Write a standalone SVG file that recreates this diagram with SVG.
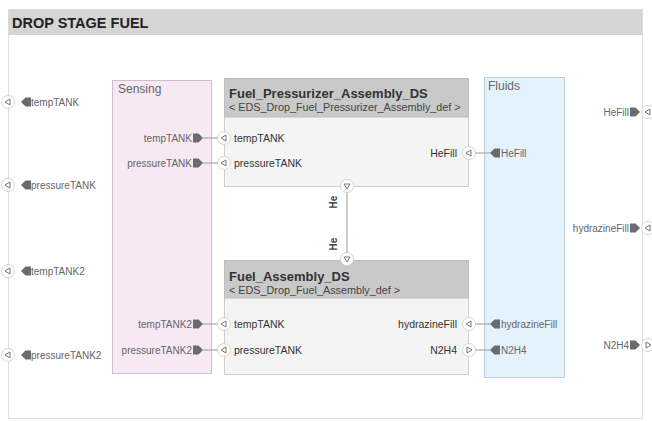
<svg xmlns="http://www.w3.org/2000/svg" xmlns:xlink="http://www.w3.org/1999/xlink" width="652" height="421" viewBox="0 0 652 421">
<style>
text{font-family:"Liberation Sans",Arial,sans-serif}
.lbl{font-size:10px;fill:#666}
.plbl{font-size:10.5px;fill:#333}
.ttl{font-size:13px;font-weight:bold;fill:#333}
.sub{font-size:10.8px;fill:#444}
.grp{font-size:12px;fill:#666}
.con{stroke:#9a9a9a;stroke-width:1;fill:none}
</style>
<defs>
<g id="pinL"><circle r="6.5" fill="#fff" stroke="#d6d6d6"/><path d="M2,-3 L-3,0 L2,3 Z" fill="none" stroke="#777" stroke-width="1"/></g>
<g id="pinR"><circle r="6.5" fill="#fff" stroke="#d6d6d6"/><path d="M-2,-3 L3,0 L-2,3 Z" fill="none" stroke="#777" stroke-width="1"/></g>
<g id="pinD"><circle r="6.5" fill="#fff" stroke="#d6d6d6"/><path d="M-3,-2 L3,-2 L0,3 Z" fill="none" stroke="#777" stroke-width="1"/></g>
<path id="tabR" d="M-5,-4.5 H0.5 L5,0 L0.5,4.5 H-5 Z" fill="#6b6b6b"/>
<path id="tabL" d="M5,-4.5 H-0.5 L-5,0 L-0.5,4.5 H5 Z" fill="#6b6b6b"/>
</defs>

<g id="frame">
<rect x="8.5" y="9.5" width="634" height="409" fill="#fff" stroke="#dedede"/>
<rect x="8.5" y="9.5" width="634" height="25.5" fill="#d5d5d5"/>
<text x="12" y="28" style="font-size:14.5px;font-weight:bold;fill:#222">DROP STAGE FUEL</text>
</g>

<g id="Sensing">
<rect x="112.5" y="80.5" width="99" height="293" fill="#f6e9f4" stroke="#d4bccf"/>
<text class="grp" x="118" y="93">Sensing</text>
<text class="lbl" x="192" y="142" text-anchor="end">tempTANK</text>
<use xlink:href="#tabR" x="198" y="138"/>
<text class="lbl" x="192" y="167" text-anchor="end">pressureTANK</text>
<use xlink:href="#tabR" x="198" y="163"/>
<text class="lbl" x="192" y="328" text-anchor="end">tempTANK2</text>
<use xlink:href="#tabR" x="198" y="324"/>
<text class="lbl" x="192" y="354" text-anchor="end">pressureTANK2</text>
<use xlink:href="#tabR" x="198" y="350"/>
</g>

<g id="Fluids">
<rect x="484.5" y="77.5" width="80" height="300" fill="#e4f2fd" stroke="#bccfe0"/>
<text class="grp" x="488" y="90">Fluids</text>
<use xlink:href="#tabL" x="495" y="153"/>
<text class="lbl" x="501" y="157">HeFill</text>
<use xlink:href="#tabL" x="495" y="324"/>
<text class="lbl" x="501" y="328">hydrazineFill</text>
<use xlink:href="#tabL" x="495" y="350"/>
<text class="lbl" x="501" y="354">N2H4</text>
</g>

<g id="Fuel_Pressurizer_Assembly_DS">
<rect x="224.5" y="78.5" width="244" height="108" fill="#f4f4f4" stroke="#cfcfcf"/>
<rect x="224.5" y="78.5" width="244" height="38.5" fill="#c9c9c9" stroke="#bdbdbd"/>
<text class="ttl" x="229" y="98">Fuel_Pressurizer_Assembly_DS</text>
<text class="sub" x="229" y="111">&lt; EDS_Drop_Fuel_Pressurizer_Assembly_def &gt;</text>
<use xlink:href="#pinL" x="224" y="138"/>
<text class="plbl" x="234" y="142">tempTANK</text>
<use xlink:href="#pinL" x="224" y="163"/>
<text class="plbl" x="234" y="167">pressureTANK</text>
<use xlink:href="#pinL" x="469" y="153"/>
<text class="plbl" x="457" y="157" text-anchor="end">HeFill</text>
<use xlink:href="#pinD" x="347" y="186"/>
</g>

<g id="Fuel_Assembly_DS">
<rect x="224.5" y="260.5" width="244" height="114" fill="#f4f4f4" stroke="#cfcfcf"/>
<rect x="224.5" y="260.5" width="244" height="37.5" fill="#c9c9c9" stroke="#bdbdbd"/>
<text class="ttl" x="229" y="281">Fuel_Assembly_DS</text>
<text class="sub" x="229" y="294">&lt; EDS_Drop_Fuel_Assembly_def &gt;</text>
<use xlink:href="#pinL" x="224" y="324"/>
<text class="plbl" x="234" y="328">tempTANK</text>
<use xlink:href="#pinL" x="224" y="350"/>
<text class="plbl" x="234" y="354">pressureTANK</text>
<use xlink:href="#pinL" x="469" y="324"/>
<text class="plbl" x="457" y="328" text-anchor="end">hydrazineFill</text>
<use xlink:href="#pinR" x="469" y="350"/>
<text class="plbl" x="457" y="354" text-anchor="end">N2H4</text>
<use xlink:href="#pinD" x="347" y="259"/>
</g>

<g id="boundary_ports">
<use xlink:href="#pinL" x="8" y="102"/>
<use xlink:href="#tabL" x="26" y="102"/>
<text class="lbl" x="31" y="106">tempTANK</text>
<use xlink:href="#pinL" x="8" y="185"/>
<use xlink:href="#tabL" x="26" y="185"/>
<text class="lbl" x="31" y="189">pressureTANK</text>
<use xlink:href="#pinL" x="8" y="271"/>
<use xlink:href="#tabL" x="26" y="271"/>
<text class="lbl" x="31" y="275">tempTANK2</text>
<use xlink:href="#pinL" x="8" y="355"/>
<use xlink:href="#tabL" x="26" y="355"/>
<text class="lbl" x="31" y="359">pressureTANK2</text>
<text class="lbl" x="629" y="116" text-anchor="end">HeFill</text>
<use xlink:href="#tabR" x="635" y="112"/>
<use xlink:href="#pinL" x="648" y="112"/>
<text class="lbl" x="629" y="232" text-anchor="end">hydrazineFill</text>
<use xlink:href="#tabR" x="635" y="228"/>
<use xlink:href="#pinL" x="648" y="228"/>
<text class="lbl" x="629" y="349" text-anchor="end">N2H4</text>
<use xlink:href="#tabR" x="635" y="345"/>
<use xlink:href="#pinR" x="648" y="345"/>
</g>

<g id="connectors">
<path class="con" d="M203,138 H217.5"/>
<path class="con" d="M203,163 H217.5"/>
<path class="con" d="M203,324 H217.5"/>
<path class="con" d="M203,350 H217.5"/>
<path class="con" d="M475.5,153 H490"/>
<path class="con" d="M475.5,324 H490"/>
<path class="con" d="M475.5,350 H490"/>
<path class="con" d="M347,192.5 V252.5"/>
<text transform="rotate(-90 333 202)" x="333" y="206" text-anchor="middle" style="font-size:10px;font-weight:bold;fill:#444">He</text>
<text transform="rotate(-90 333 244)" x="333" y="248" text-anchor="middle" style="font-size:10px;font-weight:bold;fill:#444">He</text>
</g>
</svg>
